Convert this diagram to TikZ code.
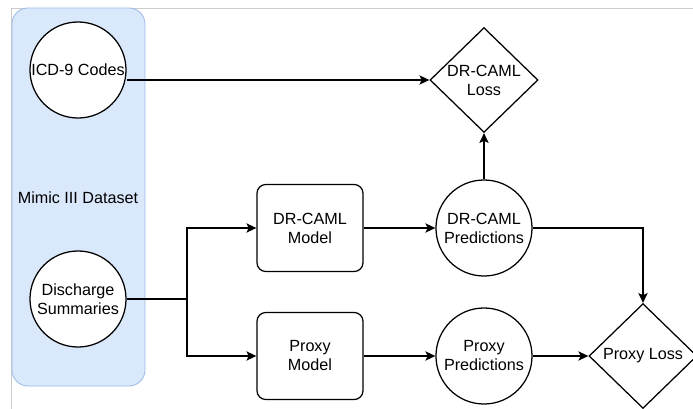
\documentclass[tikz,border=0pt]{standalone}
\usepackage{fontspec}
\setmainfont{Liberation Sans}
\usetikzlibrary{shapes.geometric,arrows.meta}

\definecolor{dsfill}{HTML}{DAE8FC}
\definecolor{dsline}{HTML}{9DBBE6}
\definecolor{framegray}{HTML}{CCCCCC}

\tikzset{
  datacircle/.style={circle, draw, line width=0.9pt, fill=white, inner sep=0pt,
    minimum size=2.4cm, align=center, font=\fontsize{11.5}{13.5}\selectfont},
  modelbox/.style={rectangle, draw, line width=0.9pt, fill=white, rounded corners=0.22cm,
    minimum width=2.65cm, minimum height=2.175cm, align=center, font=\fontsize{11.5}{13.5}\selectfont},
  lossdiamond/.style={diamond, draw, line width=0.9pt, fill=white, inner sep=0pt,
    minimum width=2.7cm, minimum height=2.62cm, align=center, font=\fontsize{11.5}{13.5}\selectfont},
  flow/.style={line width=1.4pt, -{Stealth[length=7pt,width=6.5pt,inset=1.5pt]}}
}

\begin{document}
\begin{tikzpicture}[x=0.025cm, y=-0.025cm]
    \useasboundingbox (0,0) rectangle (693,409);

    % Frame
    \draw[framegray, line width=0.6pt] (693,8) -- (11,8) -- (11,409);
    % Dataset
    \draw[dsline, fill=dsfill, line width=0.6pt, rounded corners=0.4cm] (12,8) rectangle (145,386);
    \node[font=\fontsize{11.5}{13.5}\selectfont] (mimic) at (78,198) {Mimic III Dataset};
    \node[datacircle] (icd) at (78,70) {ICD-9 Codes};
    \node[datacircle] (dis) at (78,299) {Discharge\\Summaries};

    % Models
    \node[modelbox] (drmodel) at (310,228) {DR-CAML\\Model};
    \node[modelbox] (pxmodel) at (310,356) {Proxy\\Model};

    % Predictions
    \node[datacircle] (drpred) at (484,228) {DR-CAML\\Predictions};
    \node[datacircle] (pxpred) at (484,356) {Proxy\\Predictions};

    % Losses
    \node[lossdiamond] (drloss) at (484,80) {DR-CAML\\Loss};
    \node[lossdiamond] (pxloss) at (643,356) {Proxy Loss};

    % Connectors
    \coordinate (split) at (187,299);
    \draw[line width=1.4pt] (dis) -- (split);
    \draw[flow] (split) |- (drmodel);
    \draw[flow] (split) |- (pxmodel);
    \draw[flow] (icd.east |- drloss.west) -- (drloss);
    \draw[flow] (drmodel) -- (drpred);
    \draw[flow] (pxmodel) -- (pxpred);
    \draw[flow] (drpred) -- (drloss);
    \draw[flow] (drpred) -| (pxloss);
    \draw[flow] (pxpred) -- (pxloss);

\end{tikzpicture}
\end{document}
